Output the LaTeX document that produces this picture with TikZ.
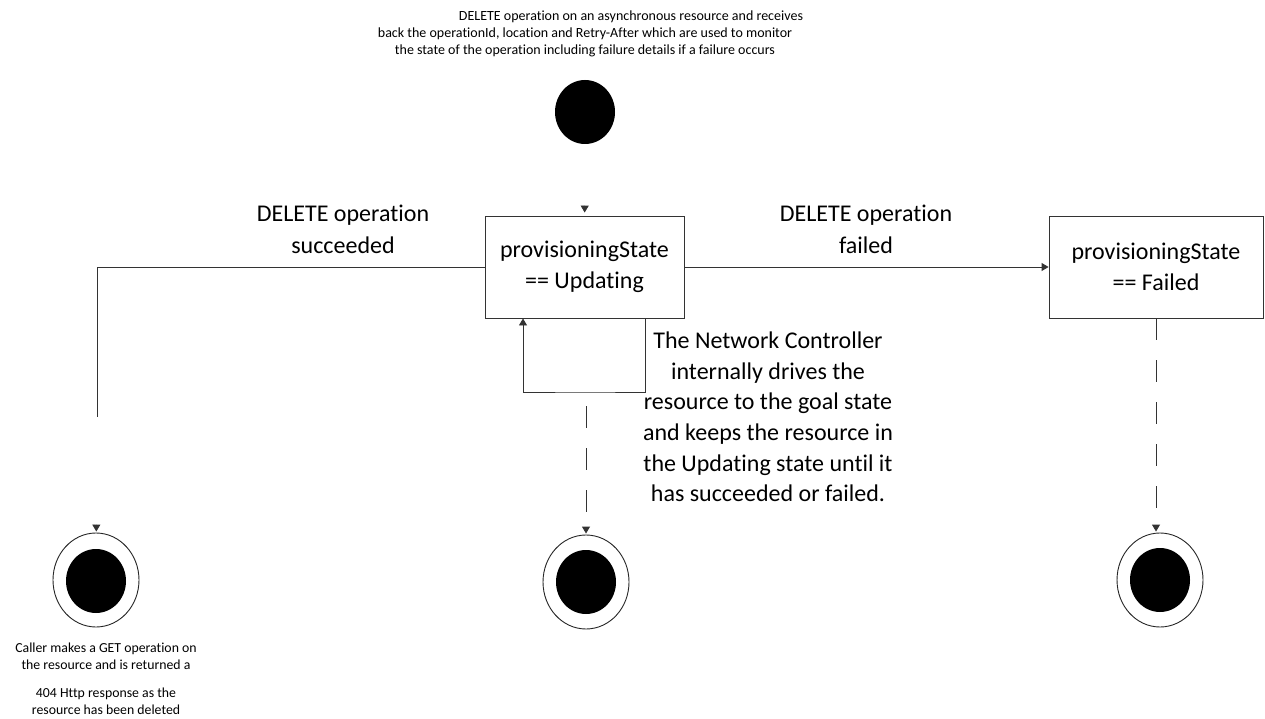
\documentclass[tikz,border=0pt]{standalone}
\usepackage{fontspec}
\setmainfont{Carlito}[Ligatures={NoCommon}]
\usetikzlibrary{arrows.meta,calc,shapes.geometric}
\begin{document}
\begin{tikzpicture}[x=1pt,y=-1pt,
  line/.style={draw=black!80, line width=0.9pt},
  tip/.style={-{Triangle[width=8pt,length=7pt]}},
  statebox/.style={line, rectangle, inner sep=0pt, align=center, font=\fontsize{24}{31}\selectfont, minimum height=102pt},
  initdot/.style={ellipse, fill=black, inner sep=0pt, minimum width=60pt, minimum height=64pt},
  finring/.style={ellipse, draw=black!85, line width=0.9pt, inner sep=0pt, minimum width=86pt, minimum height=94pt},
  findot/.style={ellipse, fill=black, inner sep=0pt, minimum width=60pt, minimum height=64pt},
  biglabel/.style={align=center, font=\fontsize{24}{32}\selectfont, inner sep=0pt},
  smalllabel/.style={align=center, font=\fontsize{14}{17}\selectfont, inner sep=0pt},
  dashline/.style={line, dash pattern=on 22pt off 20pt}
]
\useasboundingbox (0,0) rectangle (1265,719);

% top note
\node[smalllabel] (note) at (585,34) {\hspace*{92pt}DELETE operation on an asynchronous resource and receives\\back the operationId, location and Retry-After which are used to monitor\\the state of the operation including failure details if a failure occurs};

% initial state
\node[initdot] (init) at (585,112) {};

% states
\node[statebox, minimum width=199pt] (upd) at (584.5,267) {provisioningState\\== Updating};
\node[statebox, minimum width=214pt] (fail) at (1156,267) {provisioningState\\== Failed};

% final states
\node[finring] (fin1) at (96,580) {};
\node[findot] (fin1i) at (96,581) {};
\node[finring] (fin2) at (586,582) {};
\node[findot] (fin2i) at (586,582) {};
\node[finring] (fin3) at (1160,580) {};
\node[findot] (fin3i) at (1160,580) {};

% labels
\node[biglabel] (lsucc) at (343,229) {DELETE operation\\succeeded};
\node[biglabel] (lfail) at (866,229) {DELETE operation\\failed};
\node[biglabel, font=\fontsize{24}{30.6}\selectfont] (lnet) at (768,417) {The Network Controller\\internally drives the\\resource to the goal state\\and keeps the resource in\\the Updating state until it\\has succeeded or failed.};
\node[smalllabel, font=\fontsize{13.8}{17}\selectfont] (lcaller) at (106,679) {Caller makes a GET operation on\\the resource and is returned a\\[11pt]404 Http response as the\\resource has been deleted};

% coordinates
\coordinate (sc) at (97,417);
\coordinate (lb) at (586,392);

% connectors
\draw[line, tip, shorten <=62pt, shorten >=3pt] (init) -- (upd);
\draw[line] (upd.west) -| (sc);
\draw[line, tip, shorten <=108pt, shorten >=1pt] (sc) -- (fin1);
\draw[line, tip] (upd.east) -- (fail.west);
\draw[line, tip] ([xshift=60.5pt]upd.south) |- (lb) -| ([xshift=-61.5pt]upd.south);
\draw[dashline, dash phase=28pt, tip, shorten >=1pt] (lb) -- (fin2);
\draw[dashline, tip, shorten >=1pt] (fail.south) -- ([xshift=-4pt]fin3.north);
\end{tikzpicture}
\end{document}
